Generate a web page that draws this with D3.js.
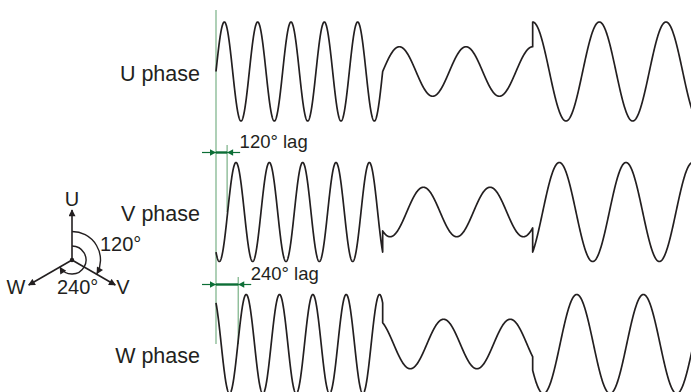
<!DOCTYPE html>
<html><head><meta charset="utf-8">
<script src="https://cdn.jsdelivr.net/npm/d3@7/dist/d3.min.js"></script>
<style>html,body{margin:0;padding:0;background:#fff;}svg{display:block;font-family:"Liberation Sans",Arial,sans-serif;}</style>
</head><body>
<script>
// ---- data ----
const phaseNames = ["U", "V", "W"];
const phaseLabels = ["U phase", "V phase", "W phase"];
// time in cycles of the fast waveform
const sectionStart = [0, 5, 9.5];
const sectionEnd = [5, 9.5, 14.3];
const sectionFreq = [1, 0.5, 0.5];     // relative frequency
const sectionAmp = [1, 0.5, 1];        // relative amplitude
const lagU = [0, 0, 0];                // phase lag (deg) per section
const lagV = [126, 130, 144];
const lagW = [236, 239, 238];
const lagMarks = [120, 240];           // dimension marks (deg)
const lagTexts = ["120° lag", "240° lag"];
const phasorAngles = [0, 120, 240];    // deg clockwise from U
const arcAngles = [120, 240];
const arcTexts = ["120°", "240°"];

const lags = {U: lagU, V: lagV, W: lagW};

const W = 691, H = 392;
const svg = d3.select("body").append("svg").attr("width", W).attr("height", H);
const ink = "#231f20", lightG = "#79b186", darkG = "#0c6e36";

const x = d3.scaleLinear().domain([0, 14.25]).range([216, 691]);
const yc = d3.scaleOrdinal().domain(phaseNames).range([71.5, 212, 344]);
const labelY = d3.scaleOrdinal().domain(phaseNames).range([81, 221, 363]);
const amp = d3.scaleLinear().domain([-1, 1]).range([49.5, -49.5]);

// accumulated phase (cycles) of reference
function refPhase(t) {
  let p = 0;
  for (let i = 0; i < sectionStart.length; i++) {
    const a = sectionStart[i], b = sectionEnd[i];
    if (t <= a) break;
    p += (Math.min(t, b) - a) * sectionFreq[i];
  }
  return p;
}

// green reference lines
const gLines = svg.append("g");
gLines.append("line").attr("x1", x(0)).attr("x2", x(0)).attr("y1", 10).attr("y2", yc("W"))
  .attr("stroke", lightG).attr("stroke-width", 1.2);
lagMarks.forEach((d, i) => {
  const name = phaseNames[i + 1];
  const xl = x(d / 360);
  const yTop = yc(name) - 67;
  gLines.append("line").attr("x1", xl).attr("x2", xl).attr("y1", yTop).attr("y2", yc(name))
    .attr("stroke", lightG).attr("stroke-width", 1.2);
});

// waveforms
const line = d3.line().x(d => x(d.t)).y(d => d.y);
phaseNames.forEach(name => {
  const pts = [];
  sectionStart.forEach((s, i) => {
    const e = sectionEnd[i];
    const n = Math.ceil((e - s) * 200);
    for (let k = 0; k <= n; k++) {
      const t = s + (e - s) * k / n;
      const ph = 2 * Math.PI * refPhase(t) - lags[name][i] * Math.PI / 180;
      pts.push({t, y: yc(name) + amp(sectionAmp[i] * Math.sin(ph))});
    }
  });
  svg.append("path").attr("d", line(pts)).attr("fill", "none")
    .attr("stroke", ink).attr("stroke-width", 1.7).attr("stroke-linejoin", "round");
});

// phase labels
phaseLabels.forEach((lab, i) => {
  svg.append("text").attr("x", 200).attr("y", labelY(phaseNames[i]))
    .attr("text-anchor", "end").attr("font-size", 21.5).attr("fill", ink).text(lab);
});

// dimension marks
function arrowHead(g, tipX, tipY, dir, len, hw, color) {
  g.append("path").attr("d", `M${tipX},${tipY}L${tipX - dir * len},${tipY - hw}L${tipX - dir * len},${tipY + hw}Z`)
    .attr("fill", color);
}
lagMarks.forEach((d, i) => {
  const name = phaseNames[i + 1];
  const yd = yc(name) - 59.5;
  const x0 = x(0), x1 = x(d / 360);
  const g = svg.append("g");
  g.append("line").attr("x1", x0 - 14).attr("x2", x0).attr("y1", yd).attr("y2", yd).attr("stroke", darkG).attr("stroke-width", 1.2);
  g.append("line").attr("x1", x1).attr("x2", x1 + 13).attr("y1", yd).attr("y2", yd).attr("stroke", darkG).attr("stroke-width", 1.2);
  g.append("line").attr("x1", x0).attr("x2", x1).attr("y1", yd).attr("y2", yd).attr("stroke", darkG).attr("stroke-width", 2.4);
  arrowHead(g, x0, yd, 1, 6, 3.2, darkG);
  arrowHead(g, x1, yd, -1, 6, 3.2, darkG);
  g.append("text").attr("x", x1 + 12.5).attr("y", yd - 5).attr("font-size", 18.5).attr("fill", ink).text(lagTexts[i]);
});

// phasor diagram
const O = [72, 260], L = 50;
const defs = svg.append("defs");
defs.append("marker").attr("id", "ah").attr("viewBox", "0 0 10 10").attr("refX", 9).attr("refY", 5)
  .attr("markerWidth", 9).attr("markerHeight", 7).attr("markerUnits", "userSpaceOnUse").attr("orient", "auto")
  .append("path").attr("d", "M0,0L10,5L0,10Z").attr("fill", ink);
const pg = svg.append("g");
const rad = a => (a - 90) * Math.PI / 180;
phasorAngles.forEach((a, i) => {
  const ex = O[0] + L * Math.cos(rad(a)), ey = O[1] + L * Math.sin(rad(a));
  pg.append("line").attr("x1", O[0]).attr("y1", O[1]).attr("x2", ex).attr("y2", ey)
    .attr("stroke", ink).attr("stroke-width", 1.6).attr("marker-end", "url(#ah)");
});
pg.append("circle").attr("cx", O[0]).attr("cy", O[1]).attr("r", 2.2).attr("fill", ink);
const arcR = [28.5, 14];
arcAngles.forEach((a, i) => {
  const p = d3.path();
  const r = arcR[i];
  p.moveTo(O[0], O[1] - r);
  p.arc(O[0], O[1], r, rad(0), rad(a) - 0.02, false);
  pg.append("path").attr("d", p.toString()).attr("fill", "none").attr("stroke", ink)
    .attr("stroke-width", 1.4).attr("marker-end", "url(#ah)");
});
pg.append("text").attr("x", O[0]).attr("y", 206).attr("text-anchor", "middle").attr("font-size", 20).attr("fill", ink).text(phaseNames[0]);
pg.append("text").attr("x", 123).attr("y", 294).attr("text-anchor", "middle").attr("font-size", 20).attr("fill", ink).text(phaseNames[1]);
pg.append("text").attr("x", 16).attr("y", 294).attr("text-anchor", "middle").attr("font-size", 20).attr("fill", ink).text(phaseNames[2]);
pg.append("text").attr("x", 100).attr("y", 251).attr("font-size", 20).attr("fill", ink).text(arcTexts[0]);
pg.append("text").attr("x", 57).attr("y", 294).attr("font-size", 20).attr("fill", ink).text(arcTexts[1]);
</script>
</body></html>
